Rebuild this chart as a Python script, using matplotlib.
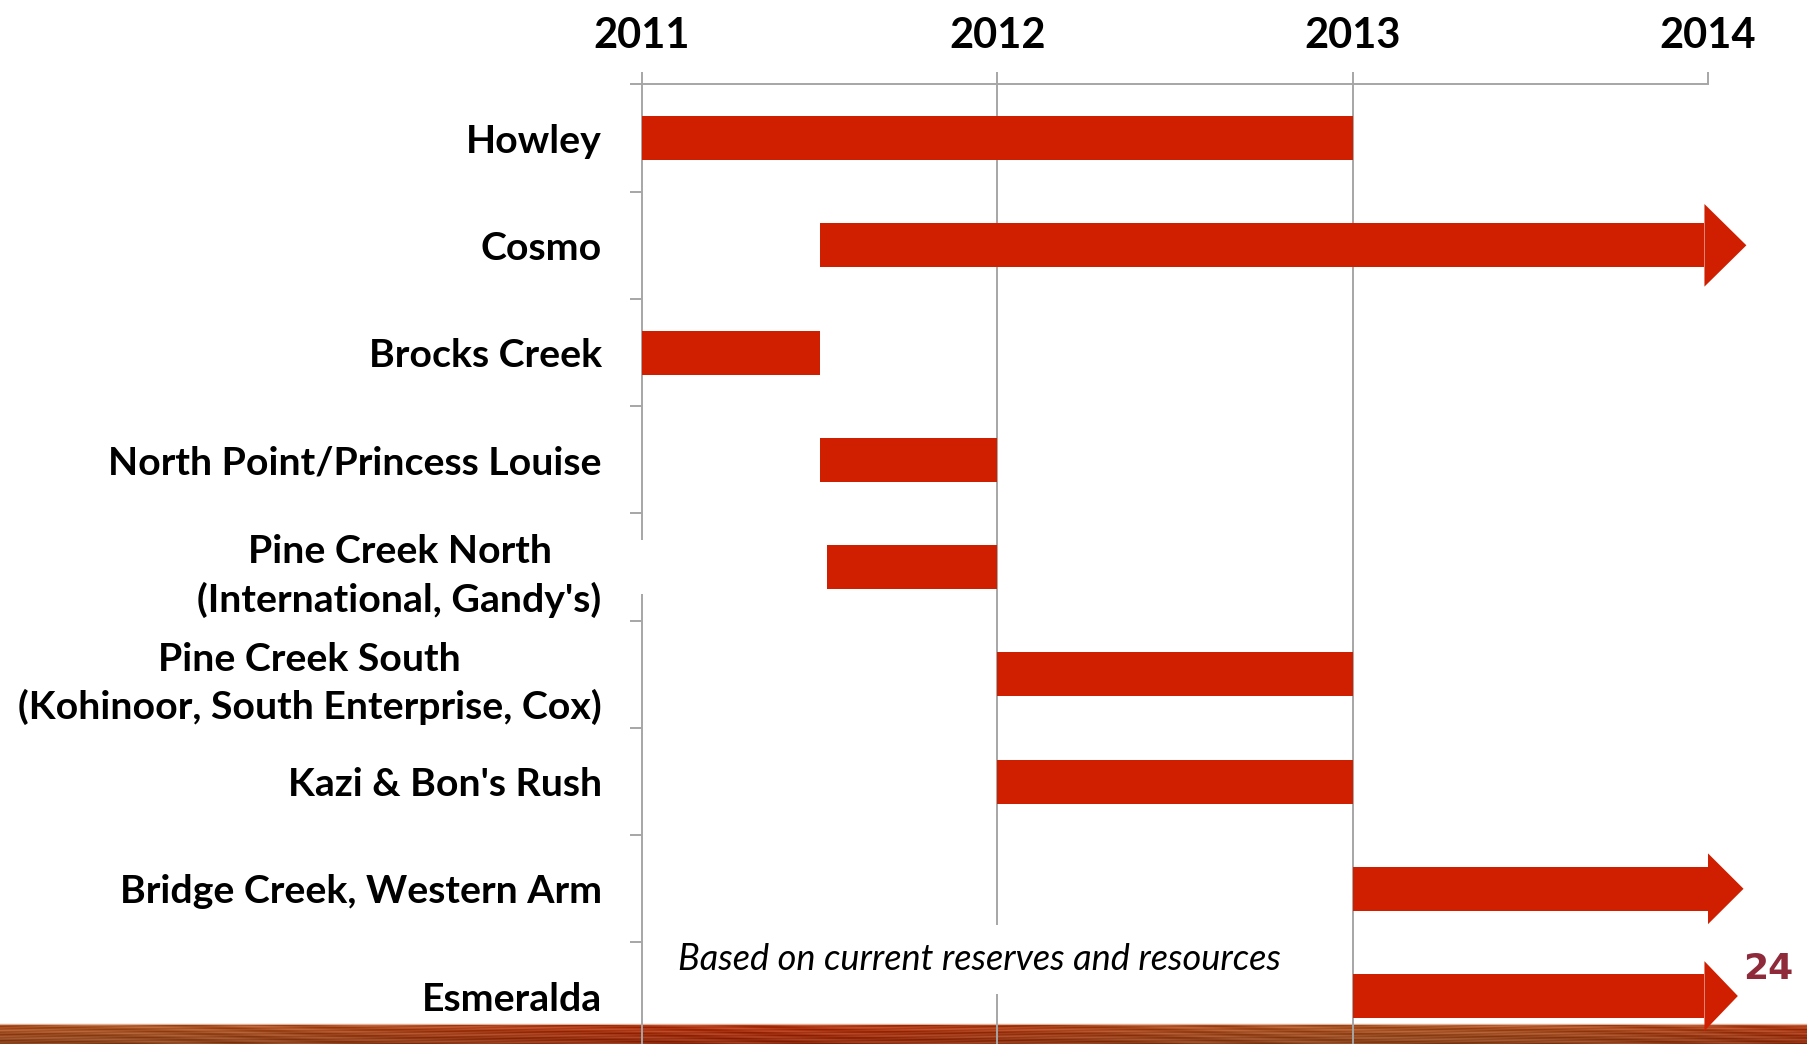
import numpy as np
import matplotlib
matplotlib.use("Agg")
import matplotlib.pyplot as plt
from matplotlib.patches import Polygon, Rectangle

# ---------------- data ----------------
projects = [
    "Howley",
    "Cosmo",
    "Brocks Creek",
    "North Point/Princess Louise",
    "Pine Creek North\n(International, Gandy's)",
    "Pine Creek South\n(Kohinoor, South Enterprise, Cox)",
    "Kazi & Bon's Rush",
    "Bridge Creek, Western Arm",
    "Esmeralda",
]
start_year = [2011.0, 2011.5, 2011.0, 2011.5, 2011.52, 2012.0, 2012.0, 2013.0, 2013.0]
end_year = [2013.0, 2013.99, 2011.5, 2012.0, 2012.0, 2013.0, 2013.0, 2014.0, 2013.99]
continues = [False, True, False, False, False, False, False, True, True]
years = [2011, 2012, 2013, 2014]
note = "Based on current reserves and resources"
page_number = "24"

# ---------------- style ----------------
BAR = "#CF1F00"
GRID = "#A6A6A6"
FONT = ["Lato", "DejaVu Sans"]
head_width = [0, 0.77, 0, 0, 0, 0, 0, 0.66, 0.65]
head_length = [0, 0.118, 0, 0, 0, 0, 0, 0.10, 0.094]
bar_h = 0.41

W, H = 1808, 1044
fig = plt.figure(figsize=(W / 100, H / 100), dpi=100)
fig.patch.set_facecolor("white")

# wood strip at the bottom (drawn behind the chart)
sax = fig.add_axes([0, 0, 1, 21 / H], zorder=0)
sax.set_axis_off()
xx = np.linspace(0, 1, W)[None, :]
yy = np.linspace(0, 1, 21)[:, None]
streak = (np.sin(yy * 31.0 + np.sin(xx * 23.0) * 2.0) *
          np.sin(yy * 13.0 + xx * 57.0 + np.sin(xx * 7.0)))
mix = 0.5 + 0.5 * np.sin(xx * 9.0 + 1.0)
red = np.array([0.72, 0.22, 0.08])
brown = np.array([0.70, 0.35, 0.16])
base = red[None, None, :] * (1 - mix[..., None]) + brown[None, None, :] * mix[..., None]
img = base + 0.10 * streak[..., None]
img = img * (1.0 - 0.22 * yy[..., None])
img[0, :, :] = np.array([0.97, 0.94, 0.90])
img[1, :, :] = np.array([0.85, 0.70, 0.62])
sax.imshow(np.clip(img, 0, 1), aspect="auto", extent=(0, 1, 0, 1), origin="upper")

ax = fig.add_axes([642 / W, -0.0054, 1066 / W, 0.9245], zorder=1)
ax.set_facecolor("none")
ax.set_xlim(years[0], years[-1])
ax.set_ylim(len(projects) - 0.5, -0.5)

# gridlines (no line at the last year)
for yr in years[1:-1]:
    ax.axvline(yr, color=GRID, lw=1.4, zorder=1)

# bars and arrows
for i, (s, e, c) in enumerate(zip(start_year, end_year, continues)):
    ax.barh(i, e - s, left=s, height=bar_h, color=BAR, zorder=3, linewidth=0)
    if c:
        hw, hl = head_width[i], head_length[i]
        head = Polygon([(e, i - hw / 2), (e + hl, i), (e, i + hw / 2)],
                       closed=True, facecolor=BAR, edgecolor="none",
                       zorder=3, clip_on=False)
        ax.add_patch(head)

# spines
for side in ("right", "bottom"):
    ax.spines[side].set_visible(False)
for side in ("top", "left"):
    ax.spines[side].set_color(GRID)
    ax.spines[side].set_linewidth(1.4)

# x axis on top
ax.xaxis.tick_top()
ax.set_xticks(years)
ax.set_xticklabels([str(y) for y in years], fontfamily=FONT,
                   fontweight="bold", fontsize=30)
ax.tick_params(axis="x", direction="out", length=8.3, width=1.4,
               color=GRID, pad=13)

# y axis: labels at centres, tick marks at boundaries
ax.set_yticks(range(len(projects)))
ax.set_yticklabels(projects, fontfamily=FONT, fontweight="bold", fontsize=28.3)
for lbl in ax.get_yticklabels():
    lbl.set_multialignment("center")
    lbl.set_linespacing(1.4)
ax.tick_params(axis="y", which="major", length=0, pad=29)
ax.set_yticks(np.arange(-0.5, len(projects) + 0.5, 1), minor=True)
ax.tick_params(axis="y", which="minor", direction="out", length=8.6,
               width=1.4, color=GRID)

# white backing behind the two-line label that hides the axis line
ax.add_patch(Rectangle((years[0] - 0.03, 3.75), 0.05, 0.5, facecolor="white",
                       edgecolor="none", zorder=6, clip_on=False))

# note
ax.text(2011.1, 7.66, note, fontfamily=FONT, fontstyle="italic", fontsize=26,
        ha="left", va="center", zorder=4,
        bbox=dict(boxstyle="square,pad=0.5", facecolor="white", edgecolor="none"))

# page number
fig.text(1768 / W, 1 - 969 / H, page_number, color="#8E2A3A", fontsize=26,
         fontweight="bold", fontfamily="DejaVu Sans", ha="center", va="center")

fig.savefig("out.png", dpi=100, facecolor="white")
